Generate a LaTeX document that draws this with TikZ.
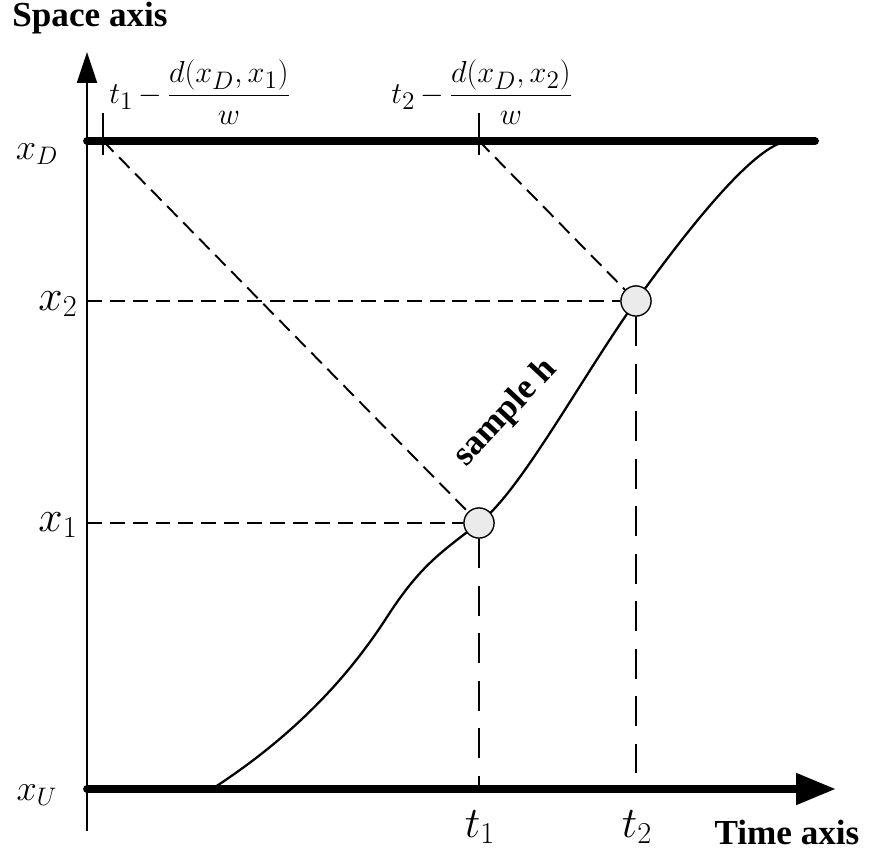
\documentclass[tikz,border=0pt]{standalone}
\usepackage{fontspec}
\setmainfont{Liberation Serif}
\usepackage{amsmath}
\usetikzlibrary{arrows.meta,positioning}

\begin{document}
\begin{tikzpicture}[x=0.02cm,y=-0.02cm,
	axisline/.style={line width=4.5pt},
	thinline/.style={line width=1.1pt},
	guide/.style={line width=1.1pt,dash pattern=on 8.5pt off 4.5pt},
	longguide/.style={line width=1.1pt,dash pattern=on 17pt off 10pt},
	sampledot/.style={circle,draw,line width=0.7pt,fill=black!8,minimum size=0.6cm,inner sep=0pt},
	lbl/.style={font=\fontsize{20}{24}\selectfont\bfseries},
	smalllbl/.style={font=\fontsize{22}{26}\selectfont},
	biglbl/.style={font=\fontsize{26}{30}\selectfont},
	fraclbl/.style={font=\fontsize{19}{23}\selectfont}]
	\useasboundingbox (0,0) rectangle (869,852);
	
	% axes
	\coordinate (O) at (87,789);
	\coordinate (ytop) at (87,52);
	\coordinate (ybot) at (87,831);
	\coordinate (xend) at (836,789);
	\coordinate (D0) at (87,141);
	\coordinate (D1) at (815,141);
	\draw[thinline,-{Triangle[length=0.62cm,width=0.4cm]}] (ybot)--(ytop);
	\draw[axisline,line cap=round] (D0)--(D1);
	\draw[axisline,line cap=round,-{Triangle[length=0.8cm,width=0.6cm]}] (O)--(xend);
	
	% sample points
	\node[sampledot] (p1) at (479,523) {};
	\node[sampledot] (p2) at (636,301) {};
	\coordinate (x1) at (87,523);
	\coordinate (x2) at (87,301);
	\coordinate (t1) at (479,789);
	\coordinate (t2) at (636,789);
	
	% ticks on x_D
	\coordinate (a1) at (103,113); \coordinate (b1) at (103,155);
	\coordinate (a2) at (479,113); \coordinate (b2) at (479,155);
	\coordinate (s1) at (103,141); \coordinate (s2) at (479,141);
	\draw[thinline] (a1)--(b1);
	\draw[thinline] (a2)--(b2);
	
	% dashed guides
	\draw[guide] (x1)--(p1);
	\draw[guide] (x2)--(p2);
	\draw[longguide] (p1)--(t1);
	\draw[longguide] (p2)--(t2);
	\draw[guide] (s1)--(p1);
	\draw[guide] (s2)--(p2);
	
	% trajectory
	\coordinate (h0) at (212,789);
	\coordinate (hm) at (387,617);
	\coordinate (h1) at (790,141);
	\draw[line width=1.3pt] (h0) .. controls (280,745) and (340,690) .. (hm)
		.. controls (420,566) and (440,553) .. (p1.center)
		.. controls (520,492) and (580,380) .. (p2.center)
		.. controls (680,240) and (755,141) .. (h1);
	\node[sampledot] at (p1) {};
	\node[sampledot] at (p2) {};
	
	% labels
	\node[lbl] (space) at (90,18) {Space axis};
	\node[lbl] (time) at (787,832) {Time axis};
	\node[lbl,rotate=47] (samp) at (506,413) {sample h};
	\node[smalllbl] (lxD) at (37,154) {$x_D$};
	\node[smalllbl] (lxU) at (37,795) {$x_U$};
	\node[biglbl] (lx1) at (58,525) {$x_1$};
	\node[biglbl] (lx2) at (58,304) {$x_2$};
	\node[biglbl] (lt1) at (480,827) {$t_1$};
	\node[biglbl] (lt2) at (637,827) {$t_2$};
	\node[fraclbl] (f1) at (200,92) {$t_1\,{-}\,\dfrac{d(x_D,x_1)}{w}$};
	\node[fraclbl] (f2) at (482,92) {$t_2\,{-}\,\dfrac{d(x_D,x_2)}{w}$};
\end{tikzpicture}
\end{document}
